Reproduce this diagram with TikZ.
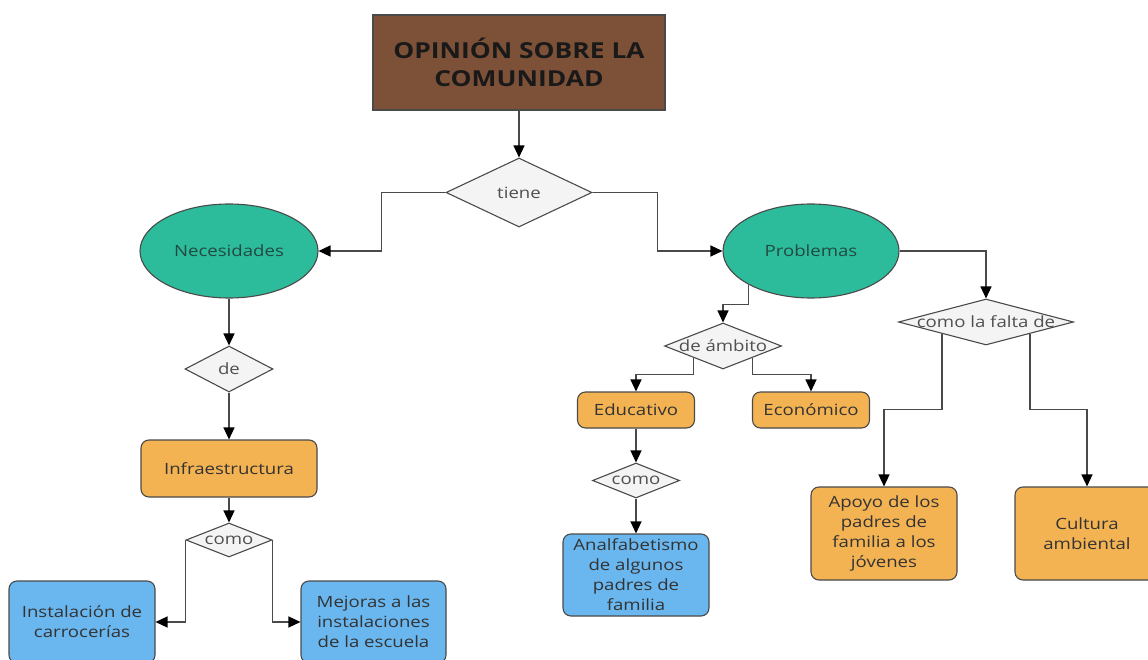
\documentclass[tikz,border=0pt]{standalone}
\usepackage{fontspec}
\setmainfont[FakeStretch=1.2]{Open Sans}
\usetikzlibrary{shapes.geometric,arrows.meta}

\definecolor{linegray}{HTML}{4A4A4A}
\definecolor{textgray}{HTML}{333333}
\definecolor{diatext}{HTML}{505050}
\definecolor{diafill}{HTML}{F4F4F4}
\definecolor{titlebrown}{HTML}{7D5138}
\definecolor{nodeteal}{HTML}{2DBC9B}
\definecolor{ellipsetext}{HTML}{224A41}
\definecolor{boxorange}{HTML}{F4B352}
\definecolor{boxblue}{HTML}{6AB7F0}

\tikzset{
  base/.style={draw=linegray, line width=1.1pt, align=center, inner sep=0pt,
    font=\fontsize{15.5}{20}\selectfont, text=textgray},
  box/.style={base, rectangle, rounded corners=8pt},
  orangebox/.style={box, fill=boxorange},
  bluebox/.style={box, fill=boxblue},
  titlebox/.style={base, rectangle, fill=titlebrown, text=black!90,
    font=\fontsize{22}{28}\selectfont\bfseries},
  oval/.style={base, ellipse, fill=nodeteal, text=ellipsetext},
  dia/.style={base, diamond, fill=diafill, text=diatext},
  conn/.style={draw=linegray, line width=1.3pt,
    -{Triangle[length=12pt,width=11pt,black]}}
}

\begin{document}
\begin{tikzpicture}[x=1pt, y=-1pt]
\useasboundingbox[fill=white] (0,0) rectangle (1148,660);

% title and first branching
\node[titlebox, minimum width=292pt, minimum height=95pt] (title) at (519,62.5)
  {OPINIÓN SOBRE LA\\COMUNIDAD};
\node[dia, minimum width=146pt, minimum height=69pt] (tiene) at (519,192.5)
  {\makebox[0pt]{tiene}};
\node[oval, minimum width=178pt, minimum height=94pt] (nec) at (229,251) {Necesidades};
\node[oval, minimum width=176pt, minimum height=94pt] (prob) at (811,251) {Problemas};

% left branch: necesidades
\node[dia, minimum width=88pt, minimum height=46pt] (de) at (229,369)
  {\makebox[0pt]{de}};
\node[orangebox, minimum width=176pt, minimum height=57pt] (infra) at (229,468.5)
  {Infraestructura};
\node[dia, minimum width=86pt, minimum height=34pt] (como1) at (229,540)
  {\makebox[0pt]{como}};
\node[bluebox, minimum width=146pt, minimum height=82pt] (inst) at (82,622)
  {Instalación de\\carrocerías};
\node[bluebox, minimum width=145pt, minimum height=82pt] (mej) at (373.5,622)
  {Mejoras a las\\instalaciones\\de la escuela};

% right branch: problemas by area
\node[dia, minimum width=117pt, minimum height=46pt] (amb) at (723,346)
  {\makebox[0pt]{de ámbito}};
\node[orangebox, minimum width=117pt, minimum height=36pt] (edu) at (636,410)
  {Educativo};
\node[orangebox, minimum width=117pt, minimum height=36pt] (eco) at (811,410)
  {Económico};
\node[dia, minimum width=87pt, minimum height=35pt] (como2) at (636,480.5)
  {\makebox[0pt]{como}};
\node[bluebox, minimum width=146pt, minimum height=82pt] (analf) at (636,575)
  {Analfabetismo\\de algunos\\padres de\\familia};

% right branch: what is missing
\node[dia, minimum width=175pt, minimum height=46pt] (falta) at (986,322)
  {\makebox[0pt]{como la falta de}};
\node[orangebox, minimum width=146pt, minimum height=93pt] (apoyo) at (884,533.5)
  {Apoyo de los\\padres de\\familia a los\\jóvenes};
\node[orangebox, minimum width=144pt, minimum height=93pt] (cult) at (1087,533.5)
  {Cultura\\ambiental};

% connectors
\draw[conn] (title.south) -- (tiene.north);
\draw[conn] (tiene.west) -- ++(-64,0) |- (nec.east);
\draw[conn] (tiene.east) -- ++(65,0) |- (prob.west);

\draw[conn] (nec.south) -- (de.north);
\draw[conn] (de.south) -- (infra.north);
\draw[conn] (infra.south) -- (como1.north);
\draw[conn] (como1.west) |- (inst.east);
\draw[conn] (como1.east) |- (mej.west);

\draw[conn] (prob.south west) -- ++(0,20) -| (amb.north);
\draw[conn] (amb.south west) -- ++(0,17) -| (edu.north);
\draw[conn] (amb.south east) -- ++(0,17) -| (eco.north);
\draw[conn] (edu.south) -- (como2.north);
\draw[conn] (como2.south) -- (analf.north);

\draw[conn] (prob.east) -| (falta.north);
\draw[conn] (falta.south west) -- ++(0,76) -| (apoyo.north);
\draw[conn] (falta.south east) -- ++(0,76) -| (cult.north);
\end{tikzpicture}
\end{document}
